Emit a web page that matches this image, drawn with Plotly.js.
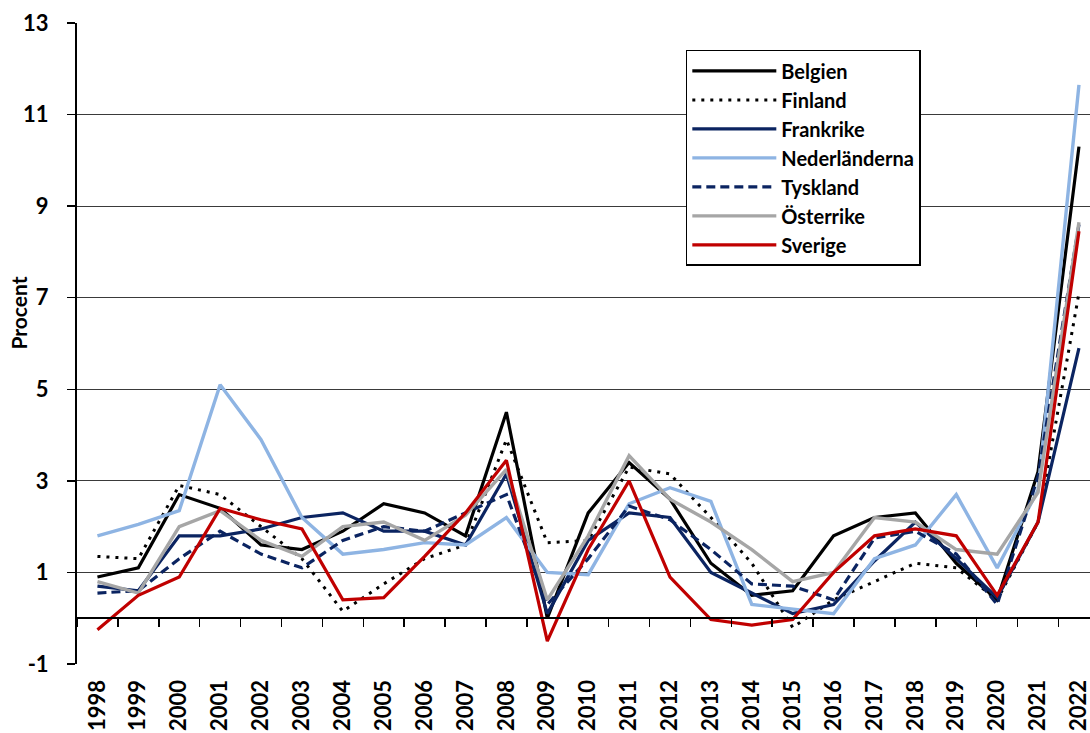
<!DOCTYPE html>
<html>
<head>
<meta charset="utf-8">
<script src="https://cdn.plot.ly/plotly-3.0.1.min.js"></script>
<style>html,body{margin:0;padding:0;background:#fff;}#chart{width:1090px;height:733px;}</style>
</head>
<body>
<div id="chart"></div>
<script>
const years = ["1998","1999","2000","2001","2002","2003","2004","2005","2006","2007","2008","2009","2010","2011","2012","2013","2014","2015","2016","2017","2018","2019","2020","2021","2022"];
const belgien       = [0.9, 1.1, 2.7, 2.4, 1.6, 1.5, 1.9, 2.5, 2.3, 1.8, 4.5, 0.0, 2.3, 3.4, 2.6, 1.2, 0.5, 0.6, 1.8, 2.2, 2.3, 1.2, 0.4, 3.2, 10.3];
const finland       = [1.35, 1.3, 2.9, 2.7, 2.0, 1.3, 0.15, 0.75, 1.3, 1.6, 3.9, 1.65, 1.7, 3.3, 3.15, 2.2, 1.2, -0.2, 0.4, 0.8, 1.2, 1.1, 0.4, 2.1, 7.1];
const frankrike     = [0.7, 0.6, 1.8, 1.8, 1.95, 2.2, 2.3, 1.9, 1.9, 1.6, 3.15, 0.1, 1.7, 2.3, 2.2, 1.0, 0.55, 0.1, 0.3, 1.25, 2.1, 1.3, 0.45, 2.1, 5.9];
const nederlanderna = [1.8, 2.05, 2.35, 5.1, 3.9, 2.2, 1.4, 1.5, 1.65, 1.6, 2.2, 1.0, 0.95, 2.5, 2.85, 2.55, 0.3, 0.2, 0.1, 1.3, 1.6, 2.7, 1.1, 2.8, 11.65];
const tyskland      = [0.55, 0.6, 1.3, 1.9, 1.4, 1.1, 1.7, 2.0, 1.9, 2.3, 2.7, 0.3, 1.3, 2.45, 2.15, 1.5, 0.75, 0.7, 0.4, 1.75, 1.9, 1.4, 0.3, 3.1, 8.6];
const osterrike     = [0.8, 0.55, 2.0, 2.35, 1.7, 1.35, 2.0, 2.1, 1.7, 2.25, 3.25, 0.4, 1.8, 3.55, 2.6, 2.1, 1.5, 0.8, 1.0, 2.2, 2.1, 1.5, 1.4, 2.75, 8.65];
const sverige       = [-0.25, 0.5, 0.9, 2.4, 2.15, 1.95, 0.4, 0.45, 1.35, 2.3, 3.45, -0.5, 1.5, 3.0, 0.9, -0.03, -0.15, -0.03, 1.0, 1.8, 1.95, 1.8, 0.5, 2.1, 8.45];
const yTicks = [-1, 1, 3, 5, 7, 9, 11, 13];

const FONT = "Lato, 'Open Sans', sans-serif";
function tr(name, y, color, width, dash) {
  return {type: 'scatter', mode: 'lines', name: name, x: years, y: y,
          line: {color: color, width: width, dash: dash || 'solid'}};
}
const data = [
  tr('Belgien', belgien, '#000000', 3.2),
  tr('Finland', finland, '#000000', 3, '3px,6px'),
  tr('Frankrike', frankrike, '#0b2461', 3.2),
  tr('Nederländerna', nederlanderna, '#8eb4e3', 3.4),
  tr('Tyskland', tyskland, '#0b2461', 3.2, '9px,5px'),
  tr('Österrike', osterrike, '#a6a6a6', 3.4),
  tr('Sverige', sverige, '#c00000', 3.2)
];

const layout = {
  width: 1090, height: 733,
  margin: {l: 77, r: 0, t: 23, b: 69},
  paper_bgcolor: '#fff', plot_bgcolor: '#fff',
  font: {family: FONT, size: 20, color: '#000', weight: 700},
  showlegend: true,
  legend: {
    x: 0.601, y: 0.958, xanchor: 'left', yanchor: 'top',
    bgcolor: '#fff', bordercolor: '#000', borderwidth: 1.5,
    font: {family: FONT, size: 20, color: '#000', weight: 700},
    itemwidth: 84, tracegroupgap: 0
  },
  xaxis: {
    type: 'category', range: [-0.5, 24.27],
    anchor: 'free', position: 1/14,
    tickson: 'boundaries', ticks: 'outside', ticklen: 8, tickwidth: 1.5, tickcolor: '#000',
    showline: true, linecolor: '#000', linewidth: 2,
    showgrid: false, zeroline: false,
    tickangle: -90, ticklabelstandoff: 52,
    tickfont: {family: FONT, size: 22, color: '#000', weight: 700},
    automargin: false, fixedrange: true
  },
  yaxis: {
    range: [-1, 13], tickvals: yTicks, ticktext: yTicks.map(String),
    ticks: 'outside', ticklen: 8, tickwidth: 1.5, tickcolor: '#000',
    showline: true, linecolor: '#000', linewidth: 2,
    showgrid: true, gridcolor: '#3a3a3a', gridwidth: 1.2,
    zeroline: false, ticklabelstandoff: 14,
    tickfont: {family: FONT, size: 22, color: '#000', weight: 700},
    automargin: false, fixedrange: true
  },
  annotations: [{
    text: 'Procent', xref: 'paper', yref: 'paper', x: -0.058, y: 0.547,
    xanchor: 'center', yanchor: 'middle', textangle: -90, showarrow: false,
    font: {family: FONT, size: 21, color: '#000', weight: 700}
  }]
};
Plotly.newPlot('chart', data, layout, {displayModeBar: false, staticPlot: true});
</script>
</body>
</html>
